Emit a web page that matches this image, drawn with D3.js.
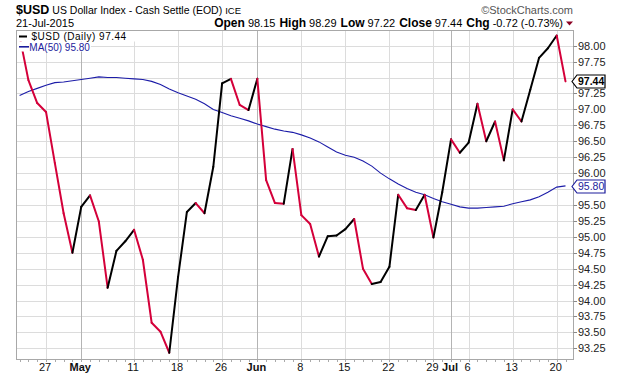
<!DOCTYPE html>
<html><head><meta charset="utf-8">
<script src="https://cdn.jsdelivr.net/npm/d3@7"></script>
<style>body{margin:0;background:#fff}svg{display:block}text{font-family:"Liberation Sans",Arial,sans-serif}</style>
</head><body><svg id="c" width="620" height="376"></svg>
<script>
const dates = ["2015-04-22","2015-04-23","2015-04-24","2015-04-27","2015-04-28","2015-04-29","2015-04-30",
"2015-05-01","2015-05-04","2015-05-05","2015-05-06","2015-05-07","2015-05-08","2015-05-11","2015-05-12","2015-05-13","2015-05-14","2015-05-15","2015-05-18","2015-05-19","2015-05-20","2015-05-21","2015-05-22","2015-05-26","2015-05-27","2015-05-28","2015-05-29",
"2015-06-01","2015-06-02","2015-06-03","2015-06-04","2015-06-05","2015-06-08","2015-06-09","2015-06-10","2015-06-11","2015-06-12","2015-06-15","2015-06-16","2015-06-17","2015-06-18","2015-06-19","2015-06-22","2015-06-23","2015-06-24","2015-06-25","2015-06-26","2015-06-29","2015-06-30",
"2015-07-01","2015-07-02","2015-07-06","2015-07-07","2015-07-08","2015-07-09","2015-07-10","2015-07-13","2015-07-14","2015-07-15","2015-07-16","2015-07-17","2015-07-20","2015-07-21"];
const closes = [98.15,97.46,97.10,96.96,96.16,95.37,94.75,
95.47,95.65,95.24,94.20,94.78,94.93,95.11,94.64,93.65,93.51,93.18,94.37,95.39,95.53,95.37,96.10,97.41,97.48,97.07,96.99,
97.48,95.89,95.53,95.52,96.38,95.34,95.20,94.69,95.01,95.02,95.12,95.28,94.50,94.26,94.29,94.53,95.66,95.45,95.42,95.66,94.99,95.70,
96.53,96.32,96.48,97.09,96.50,96.81,96.20,97.00,96.81,97.31,97.81,97.96,98.16,97.44];
const ma50 = [97.22,97.28,97.33,97.38,97.42,97.43,97.45,
97.47,97.49,97.51,97.50,97.50,97.49,97.48,97.47,97.44,97.39,97.32,97.26,97.21,97.16,97.09,97.00,96.95,96.90,96.86,96.82,
96.77,96.73,96.69,96.66,96.64,96.60,96.55,96.49,96.41,96.33,96.28,96.25,96.19,96.11,96.00,95.91,95.83,95.76,95.70,95.66,95.60,95.55,
95.51,95.47,95.45,95.45,95.46,95.47,95.48,95.52,95.55,95.58,95.63,95.70,95.78,95.80];
const yTicks = [93.25,93.50,93.75,94.00,94.25,94.50,94.75,95.00,95.25,95.50,95.75,96.00,96.25,96.50,96.75,97.00,97.25,97.50,97.75,98.00];
const xTickDates = ["2015-04-27","2015-05-01","2015-05-11","2015-05-18","2015-05-26","2015-06-01","2015-06-08","2015-06-15","2015-06-22","2015-06-29","2015-07-01","2015-07-06","2015-07-13","2015-07-20"];
const xTickLabels = ["27","May","11","18","26","Jun","8","15","22","29","Jul","6","13","20"];
const monthTicks = ["May","Jun","Jul"];

const svg = d3.select("#c");
const L = 16, R = 573, T = 30, B = 359;
const x = d3.scalePoint().domain(dates).range([19.6, 565.5]);
const y = d3.scaleLinear().domain([93.25, 98]).range([348.3, 45.7]);

const lastClose = closes[closes.length - 1];
const lastMA = ma50[ma50.length - 1];

svg.append("defs").append("clipPath").attr("id","pc").append("rect")
  .attr("x", L).attr("y", T).attr("width", R - L).attr("height", B - T);

// grid
const g = svg.append("g");
g.selectAll("line.h").data(yTicks).join("line")
  .attr("x1", L).attr("x2", R).attr("y1", d => Math.round(y(d)) + 0.5).attr("y2", d => Math.round(y(d)) + 0.5)
  .attr("stroke", "#dcdcdc").attr("stroke-width", 1);
g.selectAll("line.v").data(xTickDates).join("line")
  .attr("x1", d => Math.round(x(d)) + 0.5).attr("x2", d => Math.round(x(d)) + 0.5)
  .attr("y1", T).attr("y2", B)
  .attr("stroke", (d, i) => monthTicks.includes(xTickLabels[i]) ? "#b4b4b4" : "#dcdcdc").attr("stroke-width", 1);

// MA line
const plot = svg.append("g").attr("clip-path", "url(#pc)");
plot.append("path").datum(ma50)
  .attr("d", d3.line().x((d, i) => x(dates[i])).y(d => y(d)))
  .attr("fill", "none").attr("stroke", "#1c1ca8").attr("stroke-width", 1.1);

// price segments (black = up day, red = down day)
const segs = closes.slice(1).map((v, i) => ({a: i, b: i + 1, up: v >= closes[i]}));
plot.selectAll("path.seg").data(segs).join("path")
  .attr("d", s => d3.line()([[x(dates[s.a]), y(closes[s.a])], [x(dates[s.b]), y(closes[s.b])]]))
  .attr("fill", "none").attr("stroke", s => s.up ? "#000" : "#d4003a")
  .attr("stroke-width", 2).attr("stroke-linecap", "round");

// frame
svg.append("rect").attr("x", L + 0.5).attr("y", T + 0.5).attr("width", R - L).attr("height", B - T)
  .attr("fill", "none").attr("stroke", "#a8a8a8");

// right axis (labels hidden by a value flag are not drawn)
const flagVals = [lastClose, lastMA];
const ax = svg.append("g");
ax.selectAll("line").data(yTicks).join("line")
  .attr("x1", R + 0.5).attr("x2", R + 4).attr("y1", d => Math.round(y(d)) + 0.5).attr("y2", d => Math.round(y(d)) + 0.5)
  .attr("stroke", "#888");
ax.selectAll("text").data(yTicks.filter(t => flagVals.every(f => Math.abs(y(t) - y(f)) > 10))).join("text")
  .attr("x", R + 5).attr("y", d => y(d) + 4).attr("font-size", 11).attr("fill", "#222")
  .text(d => d.toFixed(2));

// bottom axis minor ticks + labels
svg.append("g").selectAll("line").data(dates).join("line")
  .attr("x1", d => Math.round(x(d)) + 0.5).attr("x2", d => Math.round(x(d)) + 0.5)
  .attr("y1", B + 1).attr("y2", B + 3).attr("stroke", "#aaa");
svg.append("g").selectAll("text").data(xTickDates).join("text")
  .attr("x", d => x(d) - 1).attr("y", 371).attr("text-anchor", "middle").attr("font-size", 11)
  .attr("font-weight", (d, i) => monthTicks.includes(xTickLabels[i]) ? "bold" : "normal").attr("fill", "#111")
  .text((d, i) => xTickLabels[i]);

// value flags
function flag(v, txt, col, bold) {
  const yy = Math.round(y(v)) + 0.5;
  svg.append("path").attr("d", `M${R-1},${yy} L${R+4},${yy-6.5} L${R+32},${yy-6.5} L${R+32},${yy+6.5} L${R+4},${yy+6.5} Z`)
    .attr("fill", "#fff").attr("stroke", col).attr("stroke-width", 1.2);
  svg.append("text").attr("x", R + 5).attr("y", yy + 3.8).attr("font-size", 10.5).attr("fill", col)
    .attr("font-weight", bold ? "bold" : "normal").text(txt);
}
flag(lastClose, lastClose.toFixed(2), "#000", true);
flag(lastMA, lastMA.toFixed(2), "#1c1c9c", false);

// legend
const lg = svg.append("g");
lg.append("rect").attr("x", L + 1).attr("y", T + 1).attr("width", 122).attr("height", 10.5).attr("fill", "#fff");
lg.append("rect").attr("x", L + 1).attr("y", T + 11.5).attr("width", 74).attr("height", 10).attr("fill", "#fff");
lg.append("rect").attr("x", 19).attr("y", 35.5).attr("width", 8).attr("height", 2).attr("fill", "#000");
lg.append("text").attr("x", 31.5).attr("y", 40.3).attr("font-family", "DejaVu Sans").attr("font-size", 10)
  .attr("letter-spacing", 0.5).attr("fill", "#000").text("$USD (Daily) " + lastClose.toFixed(2));
lg.append("rect").attr("x", 19).attr("y", 46).attr("width", 10).attr("height", 1.6).attr("fill", "#1c1c9c");
lg.append("text").attr("x", 29.3).attr("y", 50.8).attr("font-size", 10).attr("fill", "#1c1c9c")
  .text("MA(50) " + lastMA.toFixed(2));

// header
const t1 = svg.append("text").attr("x", 16).attr("y", 14).attr("fill", "#000");
t1.append("tspan").attr("font-weight", "bold").attr("font-size", 12.5).text("$USD");
t1.append("tspan").attr("font-size", 10.5).attr("dx", 3).text("US Dollar Index - Cash Settle (EOD)");
t1.append("tspan").attr("font-size", 9.5).attr("dx", 3).text("ICE");
svg.append("text").attr("x", 16).attr("y", 26.7).attr("font-size", 11).attr("fill", "#000").text("21-Jul-2015");
svg.append("text").attr("x", 573).attr("y", 13.5).attr("text-anchor", "end").attr("font-size", 11).attr("fill", "#555")
  .text("\u00A9StockCharts.com");
const hdr = [["Open","98.15"],["High","98.29"],["Low","97.22"],["Close","97.44"],["Chg","-0.72 (-0.73%)"]];
const t2 = svg.append("text").attr("x", 563).attr("y", 26.7).attr("text-anchor", "end").attr("fill", "#000");
hdr.forEach((h, i) => {
  t2.append("tspan").attr("font-weight", "bold").attr("font-size", 12).attr("dx", i ? 4 : 0).text(h[0]);
  t2.append("tspan").attr("font-size", 11).attr("dx", 3).text(h[1]);
});
svg.append("path").attr("d", "M566,21.5 L573,21.5 L569.5,25.5 Z").attr("fill", "#8b0022");
</script></body></html>
